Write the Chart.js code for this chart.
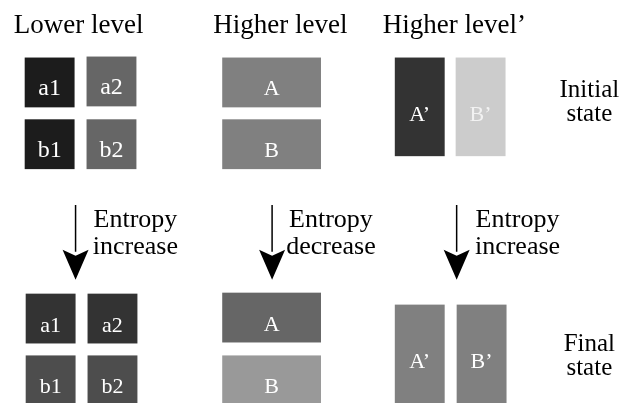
<!DOCTYPE html>
<html>
<head>
<meta charset="UTF-8">
<title>Entropy levels</title>
<script src="https://cdn.jsdelivr.net/npm/chart.js@4.4.1/dist/chart.umd.min.js"></script>
<style>
  body{ margin:0; background:#fff; }
  .wrap{ width:625px; height:403px; position:relative; }
</style>
</head>
<body>
<div class="wrap"><canvas id="diagram"></canvas></div>
<script>
// boxes: initial state first, then final state
const boxLabels = ['a1','a2','b1','b2','A','B','A\u2019','B\u2019',
                   'a1','a2','b1','b2','A','B','A\u2019','B\u2019'];
const boxLeft   = [24, 86, 24, 86, 222, 222, 395, 456,
                   25, 87, 25, 87, 222, 222, 395, 457];
const boxRight  = [74, 136, 74, 136, 321, 321, 445, 506,
                   75, 137, 75, 137, 321, 321, 445, 507];
const boxTop    = [57, 56, 119, 119, 57, 119, 57, 57,
                   294, 294, 356, 356, 293, 356, 305, 305];
const boxBottom = [107, 106, 169, 169, 107, 169, 156, 156,
                   344, 344, 406, 406, 343, 406, 404, 404];
// gray level of each box (0 = black, 255 = white)
const boxGray   = [28, 102, 28, 102, 128, 128, 51, 204,
                   51, 51, 77, 77, 102, 153, 128, 128];

const headers  = ['Lower level', 'Higher level', 'Higher level\u2019'];
const headerX  = [13, 213, 383];

const arrowX    = [75, 272, 457];
const arrowTop  = [205, 205, 205];
const arrowTip  = [280, 280, 280];
const arrowText = [['Entropy','increase'], ['Entropy','decrease'], ['Entropy','increase']];
const arrowTextX = [135, 331, 518];

const stateText = [['Initial','state'], ['Final','state']];
const stateY    = [97, 352];

const fam = "'Liberation Serif'";

// arrow shafts as line datasets
const shaftSets = arrowX.map((x, i) => ({
  data: [{x: x, y: arrowTop[i]}, {x: x, y: arrowTip[i] - 28}],
  showLine: true,
  borderColor: '#000',
  borderWidth: 1.5,
  pointRadius: 0
}));

const diagramPlugin = {
  id: 'diagram',
  afterDatasetsDraw(chart) {
    const ctx = chart.ctx;
    const sx = chart.scales.x, sy = chart.scales.y;
    ctx.save();
    // boxes
    for (let i = 0; i < boxLabels.length; i++) {
      const x0 = sx.getPixelForValue(boxLeft[i]);
      const x1 = sx.getPixelForValue(boxRight[i]);
      const y0 = sy.getPixelForValue(boxTop[i]);
      const y1 = sy.getPixelForValue(boxBottom[i]);
      const g = boxGray[i];
      ctx.fillStyle = `rgb(${g},${g},${g})`;
      ctx.fillRect(x0, y0, x1 - x0, y1 - y0);
      const small = i < 4;
      ctx.font = (small ? 24 : 22) + 'px ' + fam;
      ctx.fillStyle = g > 180 ? '#f2f2f2' : '#fff';
      ctx.textAlign = 'center';
      ctx.textBaseline = 'alphabetic';
      const cy = sy.getPixelForValue((boxTop[i] + boxBottom[i]) / 2);
      const tall = (boxBottom[i] - boxTop[i]) > 70;
      ctx.fillText(boxLabels[i], (x0 + x1) / 2, cy + (tall ? 14.5 : 13));
    }
    // arrow heads
    ctx.fillStyle = '#000';
    for (let i = 0; i < arrowX.length; i++) {
      const x = sx.getPixelForValue(arrowX[i]);
      const tip = sy.getPixelForValue(arrowTip[i]);
      ctx.beginPath();
      ctx.moveTo(x - 13, tip - 30);
      ctx.lineTo(x, tip - 24);
      ctx.lineTo(x + 13, tip - 30);
      ctx.lineTo(x, tip);
      ctx.closePath();
      ctx.fill();
    }
    // text
    ctx.fillStyle = '#000';
    ctx.textBaseline = 'alphabetic';
    ctx.font = '27px ' + fam;
    ctx.textAlign = 'left';
    headers.forEach((h, i) => ctx.fillText(h, sx.getPixelForValue(headerX[i]), sy.getPixelForValue(32)));
    ctx.font = '26px ' + fam;
    ctx.textAlign = 'center';
    arrowText.forEach((lines, i) => {
      lines.forEach((t, j) => ctx.fillText(t, sx.getPixelForValue(arrowTextX[i]), sy.getPixelForValue(227 + j * 27)));
    });
    ctx.font = '25px ' + fam;
    stateText.forEach((lines, i) => {
      lines.forEach((t, j) => ctx.fillText(t, sx.getPixelForValue(590), sy.getPixelForValue(stateY[i] + j * 24)));
    });
    ctx.restore();
  }
};

const chart = new Chart(document.getElementById('diagram'), {
  type: 'scatter',
  data: { datasets: shaftSets },
  options: {
    responsive: true,
    maintainAspectRatio: false,
    animation: false,
    layout: { padding: 0 },
    plugins: { legend: { display: false }, tooltip: { enabled: false } },
    scales: {
      x: { type: 'linear', min: 0, max: 625, display: false },
      y: { type: 'linear', min: 0, max: 403, reverse: true, display: false }
    }
  },
  plugins: [diagramPlugin]
});
document.fonts.ready.then(() => chart.update());
</script>
</body>
</html>
